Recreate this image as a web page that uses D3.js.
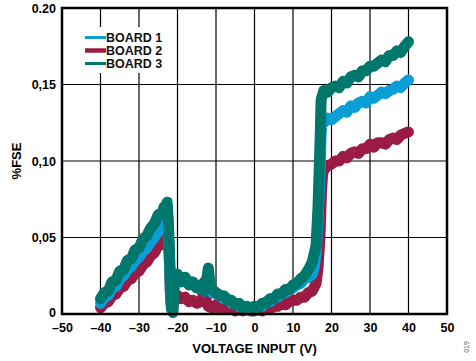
<!DOCTYPE html>
<html>
  <head>
    <meta http-equiv="Content-type" content="text/html; charset=utf-8">
    <title>%FSE vs Voltage Input</title>
    <script src="https://d3js.org/d3.v7.min.js"></script>
    <style>
      body { margin: 0; background: #fff; }
      text { font-family: "Liberation Sans", Arial, sans-serif; font-weight: bold; }
    </style>
  </head>
  <body>
    <div id="chart"></div>
    <script type="text/javascript">
      var boards = ["BOARD 1", "BOARD 2", "BOARD 3"];
      var colors = ["#0a9dd6", "#9c1b44", "#00776d"];

      var xTicks = [-50, -40, -30, -20, -10, 0, 10, 20, 30, 40, 50];
      var yTicks = [0, 0.05, 0.10, 0.15, 0.20];
      var yTickLabels = ["0", "0,05", "0,10", "0,15", "0.20"];

      // board 1 (blue)
      var board1V = [-40,-39,-38,-37,-36,-35,-34,-33,-32,-31,-30,-29,-28,-27,-26,-25,-24,-23,-22.6,-22.2,-21.8,-21.4,-21,-20.5,
        -20,-19,-18,-17,-16,-15,-14,-13,-12,-11,-10,-9,-8,-7,-6,-5,-4,-3,-2,-1,0,1,2,3,4,5,6,7,8,9,10,11,12,13,14,15,15.5,16,16.5,17,17.3,17.6,
        18,19,20,21,22,23,24,25,26,27,28,29,30,31,32,33,34,35,36,37,38,39,40];
      var board1Fse = [0.007,0.011,0.012,0.017,0.018,0.023,0.025,0.029,0.031,0.035,0.037,0.041,0.043,0.047,0.050,0.054,0.056,0.060,0.061,0.045,0.010,0.003,0.015,0.026,
        0.025,0.022,0.023,0.020,0.020,0.017,0.018,0.015,0.016,0.014,0.013,0.012,0.010,0.010,0.007,0.007,0.005,0.005,0.003,0.004,0.003,0.005,0.005,0.008,0.008,0.010,0.011,0.013,0.014,0.016,0.017,0.019,0.020,0.023,0.024,0.026,0.030,0.040,0.060,0.090,0.118,0.126,
        0.125,0.128,0.127,0.129,0.131,0.133,0.132,0.136,0.135,0.138,0.139,0.138,0.142,0.141,0.143,0.145,0.144,0.146,0.147,0.149,0.148,0.151,0.153];

      // board 2 (crimson)
      var board2V = [-40,-39,-38,-37,-36,-35,-34,-33,-32,-31,-30,-29,-28,-27,-26,-25,-24,-23,-22.6,-22.2,-21.8,-21.4,-21,-20.5,
        -20,-19,-18,-17,-16,-15,-14,-13.5,-13,-12.5,-12,-11,-10,-9,-8,-7,-6,-5,-4,-3,-2,-1,0,1,2,3,4,5,6,7,8,9,10,11,12,13,14,15,16,16.5,17,17.4,17.7,
        18,19,20,21,22,23,24,25,26,27,28,29,30,31,32,33,34,35,36,37,38,39,40];
      var board2Fse = [0.004,0.007,0.008,0.012,0.013,0.017,0.018,0.022,0.023,0.027,0.028,0.032,0.034,0.038,0.040,0.045,0.046,0.050,0.052,0.040,0.010,0.002,0.008,0.013,
        0.012,0.010,0.011,0.008,0.009,0.007,0.008,0.010,0.021,0.008,0.005,0.004,0.006,0.004,0.005,0.003,0.004,0.002,0.003,0.002,0.003,0.002,0.002,0.003,0.002,0.004,0.003,0.005,0.005,0.007,0.006,0.008,0.009,0.009,0.011,0.011,0.014,0.015,0.020,0.030,0.050,0.080,0.092,
        0.094,0.097,0.098,0.100,0.100,0.103,0.102,0.105,0.106,0.105,0.108,0.108,0.111,0.109,0.112,0.112,0.111,0.114,0.115,0.114,0.117,0.118,0.119];

      // board 3 (teal)
      var board3V = [-40,-39,-38,-37,-36,-35,-34,-33,-32,-31,-30,-29,-28,-27,-26,-25,-24,-23.5,-23,-22.7,-22.4,-22,-21.6,-21.2,-20.8,
        -20,-19,-18,-17,-16,-15,-14,-13,-12.5,-12,-11.5,-11,-10,-9,-8,-7,-6,-5,-4,-3,-2,-1,0,1,2,3,4,5,6,7,8,9,10,11,12,13,14,15,16,16.5,17,17.3,
        18,19,20,21,22,23,24,25,26,27,28,29,30,31,32,33,34,35,36,37,38,39,40];
      var board3Fse = [0.010,0.014,0.015,0.021,0.022,0.028,0.029,0.035,0.036,0.042,0.043,0.049,0.051,0.056,0.059,0.065,0.066,0.070,0.068,0.073,0.062,0.035,0.004,0.001,0.022,
        0.026,0.021,0.024,0.019,0.021,0.017,0.019,0.015,0.020,0.030,0.018,0.016,0.014,0.012,0.012,0.009,0.009,0.006,0.007,0.004,0.005,0.003,0.005,0.004,0.007,0.007,0.010,0.010,0.013,0.013,0.016,0.016,0.019,0.020,0.023,0.025,0.029,0.034,0.045,0.070,0.110,0.140,
        0.146,0.145,0.148,0.149,0.148,0.152,0.151,0.155,0.156,0.155,0.159,0.159,0.162,0.162,0.164,0.166,0.165,0.169,0.169,0.172,0.171,0.175,0.178];

      var width = 476, height = 361;
      var margin = {left: 62, right: 29, top: 8, bottom: 47};

      var svg = d3.select("#chart").append("svg")
        .attr("width", width)
        .attr("height", height);

      var x = d3.scaleLinear().domain([-50, 50]).range([margin.left, width - margin.right]);
      var y = d3.scaleLinear().domain([0, 0.20]).range([height - margin.bottom, margin.top]);

      // grid
      svg.append("g").selectAll("line")
        .data(xTicks.slice(1, -1))
        .enter().append("line")
        .attr("x1", function(d) { return x(d); })
        .attr("x2", function(d) { return x(d); })
        .attr("y1", y(0)).attr("y2", y(0.20))
        .attr("stroke", "#000").attr("stroke-width", 1.2);
      svg.append("g").selectAll("line")
        .data(yTicks.slice(1, -1))
        .enter().append("line")
        .attr("x1", x(-50)).attr("x2", x(50))
        .attr("y1", function(d) { return y(d); })
        .attr("y2", function(d) { return y(d); })
        .attr("stroke", "#000").attr("stroke-width", 1.2);

      // legend backdrop (hides grid behind legend)
      svg.append("rect")
        .attr("x", 82).attr("y", 27).attr("width", 88).attr("height", 46)
        .attr("fill", "#fff");

      var line = d3.line()
        .x(function(d) { return x(d[0]); })
        .y(function(d) { return y(d[1]); });

      var series = [
        {v: board2V, f: board2Fse, c: colors[1]},
        {v: board1V, f: board1Fse, c: colors[0]},
        {v: board3V, f: board3Fse, c: colors[2]}
      ];

      svg.append("g").selectAll("path")
        .data(series)
        .enter().append("path")
        .attr("d", function(s) { return line(d3.zip(s.v, s.f)); })
        .attr("fill", "none")
        .attr("stroke", function(s) { return s.c; })
        .attr("stroke-width", 11)
        .attr("stroke-linejoin", "round")
        .attr("stroke-linecap", "round");

      // frame
      svg.append("rect")
        .attr("x", x(-50)).attr("y", y(0.20))
        .attr("width", x(50) - x(-50)).attr("height", y(0) - y(0.20))
        .attr("fill", "none").attr("stroke", "#000").attr("stroke-width", 2.5);

      // axes
      var xAxis = d3.axisBottom(x).tickValues(xTicks).tickSize(0).tickPadding(9)
        .tickFormat(function(d) { return d < 0 ? "\u2013" + Math.abs(d) : d; });
      var gx = svg.append("g").attr("transform", "translate(0," + y(0) + ")").call(xAxis);
      gx.select(".domain").remove();
      gx.selectAll("text").style("font-size", "12.5px").attr("fill", "#000");

      var yAxis = d3.axisLeft(y).tickValues(yTicks).tickSize(0).tickPadding(6)
        .tickFormat(function(d, i) { return yTickLabels[i]; });
      var gy = svg.append("g").attr("transform", "translate(" + x(-50) + ",0)").call(yAxis);
      gy.select(".domain").remove();
      gy.selectAll("text").style("font-size", "12.5px").attr("fill", "#000");
      gy.selectAll("text").filter(function(d) { return d === 0; }).attr("dy", "0.2em");

      svg.append("text")
        .attr("x", (x(-50) + x(50)) / 2).attr("y", 353)
        .attr("text-anchor", "middle")
        .style("font-size", "13px")
        .text("VOLTAGE INPUT (V)");

      svg.append("text")
        .attr("transform", "translate(21," + (y(0.1)) + ") rotate(-90)")
        .attr("text-anchor", "middle")
        .style("font-size", "13px")
        .text("%FSE");

      svg.append("text")
        .attr("transform", "translate(469,347) rotate(-90)")
        .attr("text-anchor", "middle")
        .style("font-size", "7px")
        .style("font-weight", "normal")
        .attr("fill", "#555")
        .text("019");

      // legend
      var lg = svg.append("g").selectAll("g")
        .data(boards)
        .enter().append("g")
        .attr("transform", function(d, i) { return "translate(85," + (37.5 + i * 13) + ")"; });
      lg.append("line")
        .attr("x1", 0).attr("x2", 21)
        .attr("stroke", function(d, i) { return colors[i]; })
        .attr("stroke-width", function(d, i) { return i == 1 ? 4.5 : 3; });
      lg.append("text")
        .attr("x", 21).attr("dy", "0.36em")
        .style("font-size", "12.5px")
        .attr("fill", "#111")
        .text(function(d) { return d; });
    </script>
  </body>
</html>
